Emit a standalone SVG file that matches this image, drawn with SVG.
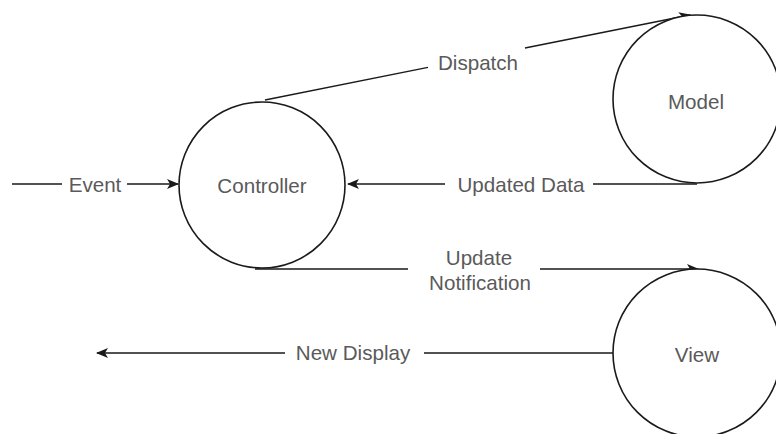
<svg xmlns="http://www.w3.org/2000/svg" width="776" height="434" viewBox="0 0 776 434">
  <style>
    .node { fill: #ffffff; stroke: #1a1a1a; stroke-width: 1.6; }
    .edge { fill: none; stroke: #1a1a1a; stroke-width: 1.4; }
    .label { font-family: "Liberation Sans", Arial, sans-serif; font-size: 20.6px; fill: #5a5a5a; text-anchor: middle; dominant-baseline: central; }
  </style>
  <defs>
    <marker id="arrow" viewBox="0 0 12 10" refX="11" refY="5" markerWidth="12" markerHeight="10" markerUnits="userSpaceOnUse" orient="auto">
      <path d="M0,0 L12,5 L0,10 L3,5 Z" fill="#1a1a1a"/>
    </marker>
  </defs>
  <rect width="776" height="434" fill="#ffffff"/>

  <g id="connectors">
    <g id="edge-event">
      <path class="edge" d="M12,184 L62,184 M127,184 L178,184" marker-end="url(#arrow)"/>
      <text class="label" x="95" y="184">Event</text>
    </g>
    <g id="edge-dispatch">
      <path class="edge" d="M265,100 L428,67.4 M525,48 L690,15" marker-end="url(#arrow)"/>
      <text class="label" x="478" y="62">Dispatch</text>
    </g>
    <g id="edge-updated-data">
      <path class="edge" d="M697,184 L593,184 M445,184 L348,184" marker-end="url(#arrow)"/>
      <text class="label" x="521" y="184">Updated Data</text>
    </g>
    <g id="edge-update-notification">
      <path class="edge" d="M255,269 L408,269 M540,269 L698,269" marker-end="url(#arrow)"/>
      <text class="label" x="479" y="257">Update</text>
      <text class="label" x="480" y="282">Notification</text>
    </g>
    <g id="edge-new-display">
      <path class="edge" d="M613,353 L424,353 M285,353 L97,353" marker-end="url(#arrow)"/>
      <text class="label" x="353" y="352">New Display</text>
    </g>
  </g>

  <g id="node-controller">
    <circle class="node" cx="262" cy="185" r="83"/>
    <text class="label" x="262" y="185">Controller</text>
  </g>
  <g id="node-model">
    <circle class="node" cx="697" cy="99" r="84"/>
    <text class="label" x="696" y="101">Model</text>
  </g>
  <g id="node-view">
    <circle class="node" cx="697" cy="353" r="84"/>
    <text class="label" x="697" y="354">View</text>
  </g>
</svg>
